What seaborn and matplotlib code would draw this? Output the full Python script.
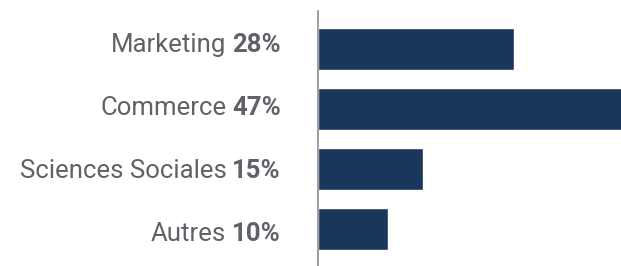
import matplotlib
matplotlib.use("Agg")
import matplotlib.pyplot as plt
import seaborn as sns
import pandas as pd
from matplotlib.transforms import offset_copy

# donnees
categories = ["Marketing", "Commerce", "Sciences Sociales", "Autres"]
pourcentages = [28, 47, 15, 10]

df = pd.DataFrame({"filiere": categories, "pct": pourcentages})

BAR = "#19365b"
TXT = "#5f6368"

sns.set_style("white")
plt.rcParams["font.family"] = ["Roboto", "DejaVu Sans"]

fig = plt.figure(figsize=(6.21, 2.66), dpi=100)
ax = fig.add_axes([318 / 621, 0, 1 - 318 / 621, 1 - 11 / 266])

sns.barplot(data=df, x="pct", y="filiere", orient="h", color=BAR,
            saturation=1, width=0.7, ax=ax)

ax.set_xlim(0, 43.3)
ax.set_ylim(3.617, -0.633)
ax.set_xticks([])
ax.set_yticks([])
ax.set(xlabel=None, ylabel=None)
for s in ["top", "right", "bottom"]:
    ax.spines[s].set_visible(False)
ax.spines["left"].set_color("#8c8c90")
ax.spines["left"].set_linewidth(1.2)

# etiquettes : nom normal + pourcentage en gras
fig.canvas.draw()
renderer = fig.canvas.get_renderer()
for i, (cat, p) in enumerate(zip(categories, pourcentages)):
    ypos = i * 1.05 - 0.1
    tr = offset_copy(ax.get_yaxis_transform(), fig=fig, x=-37, y=0, units="dots")
    t_pct = ax.text(0, ypos, f"{p}%", transform=tr, ha="right",
                    va="center_baseline", fontsize=18.5, fontweight="bold",
                    color=TXT)
    bb = t_pct.get_window_extent(renderer)
    tr2 = offset_copy(ax.get_yaxis_transform(), fig=fig,
                      x=-37 - bb.width - 6, y=0, units="dots")
    ax.text(0, ypos, cat, transform=tr2, ha="right", va="center_baseline",
            fontsize=18.5, color=TXT)

fig.savefig("out.png", dpi=100)
